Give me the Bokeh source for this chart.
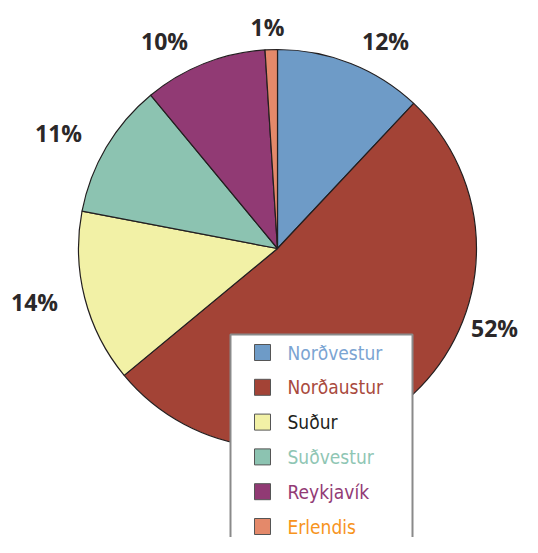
import math
from bokeh.plotting import figure
from bokeh.models import Range1d
from bokeh.core.properties import value
from bokeh.embed import file_html
from bokeh.resources import INLINE

categories = ["Norðvestur", "Norðaustur", "Suður", "Suðvestur", "Reykjavík", "Erlendis"]
shares = [12, 52, 14, 11, 10, 1]
pct_labels = ["12%", "52%", "14%", "11%", "10%", "1%"]
fill_colors = ["#6e9bc7", "#a34336", "#f2f1a6", "#8cc3b1", "#913a74", "#e4896a"]
text_colors = ["#7ba4d2", "#a94a3d", "#231f20", "#8fc6b4", "#923b75", "#f7941d"]

# image-pixel anchors of the percentage labels (x, y from top)
label_pos = [(385, 40), (494, 327), (34, 301), (58, 132), (164, 40), (267, 26)]

W, H = 522, 537
p = figure(width=W, height=H, output_backend="svg",
           toolbar_location=None, min_border=0,
           x_range=Range1d(0, W), y_range=Range1d(0, H))
p.axis.visible = False
p.grid.visible = False
p.outline_line_color = None
p.background_fill_color = "white"
p.border_fill_color = "white"


def Y(img_y):
    return H - img_y


cx, cy, r = 277, 248, 199
total = sum(shares)
cum = 0.0
starts, ends = [], []
for s in shares:
    a0 = math.pi / 2 - 2 * math.pi * cum / total
    cum += s
    a1 = math.pi / 2 - 2 * math.pi * cum / total
    starts.append(a0)
    ends.append(a1)

p.wedge(x=[cx] * len(shares), y=[Y(cy)] * len(shares), radius=r,
        start_angle=starts, end_angle=ends, direction="clock",
        fill_color=fill_colors, line_color="#231f20", line_width=1.2)

p.text(x=[lp[0] for lp in label_pos], y=[Y(lp[1]) for lp in label_pos], text=pct_labels,
       text_font=value("Open Sans"), text_font_style="bold", text_font_size="23px",
       text_color="#2b2829", text_align="center", text_baseline="middle")

# legend box
p.quad(left=[230], right=[412], top=[Y(334)], bottom=[Y(600)],
       fill_color="white", line_color="#8a8a8a", line_width=2)

ys = [Y(352 + 34.8 * i) for i in range(len(categories))]
p.rect(x=[262] * len(categories), y=ys, width=16, height=16,
       fill_color=fill_colors, line_color="#555555", line_width=1)
p.text(x=[287] * len(categories), y=ys, text=categories,
       text_font=value("DejaVu Sans Condensed"),
       text_font_size="19px", text_color=text_colors,
       text_align="left", text_baseline="middle")

open("out.html", "w").write(file_html(p, INLINE))
